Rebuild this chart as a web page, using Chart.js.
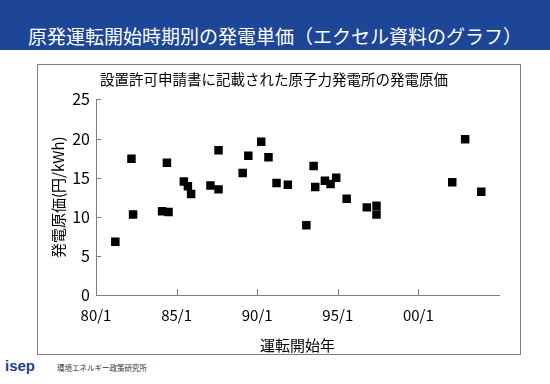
<!DOCTYPE html>
<html>
<head>
<meta charset="utf-8">
<script src="https://cdn.jsdelivr.net/npm/chart.js@4"></script>
<style>
  body { margin: 0; width: 550px; height: 384px; background: #fff; position: relative; overflow: hidden;
         font-family: "Noto Sans CJK JP", sans-serif; }
  .bar { position: absolute; left: 0; top: 0; width: 550px; height: 50px; background: #1e4696; }
  .bar h1 { position: absolute; left: 0; width: 550px; top: 23px; margin: 0; text-align: center;
            color: #fff; font-weight: normal; font-size: 19px; line-height: 26px; }
  .frame { position: absolute; left: 37px; top: 64px; width: 482px; height: 289px; border: 1px solid #808080; }
  .logo { position: absolute; left: 5px; top: 357px; color: #1e3f8f; font-family: "Liberation Sans", sans-serif;
          font-weight: bold; font-size: 15px; }
  .org { position: absolute; left: 57px; top: 362px; font-size: 7.5px; color: #333; }
</style>
</head>
<body>
<div class="bar"><h1>原発運転開始時期別の発電単価（エクセル資料のグラフ）</h1></div>
<div class="frame"><canvas id="grafico" width="482" height="289"></canvas></div>
<div class="logo">isep</div>
<div class="org">環境エネルギー政策研究所</div>
<script>
// 運転開始年 (年, 小数) と 発電原価 (円/kWh)
const anos = [1981.2, 1982.2, 1982.3, 1984.1, 1984.5, 1984.4, 1985.45, 1985.7, 1985.9, 1987.1, 1987.6,
  1987.6, 1989.1, 1989.45, 1990.25, 1990.7, 1991.2, 1991.9, 1993.5, 1993.6, 1993.05, 1994.2, 1994.55,
  1994.9, 1995.55, 1996.8, 1997.4, 1997.4, 2002.1, 2002.9, 2003.9];
const custos = [6.8, 17.4, 10.3, 10.7, 10.6, 16.9, 14.5, 13.9, 12.9, 14.0, 13.5,
  18.5, 15.6, 17.8, 19.6, 17.6, 14.3, 14.1, 16.5, 13.8, 8.9, 14.6, 14.2,
  15.0, 12.3, 11.2, 11.4, 10.3, 14.4, 19.9, 13.2];
const xTicks = [1980, 1985, 1990, 1995, 2000, 2005];
const yTicks = [0, 5, 10, 15, 20, 25];

const fonte = 'Noto Sans CJK JP';

// ticks inside the plot area
const ticksDentro = {
  id: 'ticksDentro',
  afterDraw(chart) {
    const c = chart.ctx, x = chart.scales.x, y = chart.scales.y;
    c.save();
    c.strokeStyle = '#808080';
    c.lineWidth = 1;
    c.beginPath();
    xTicks.slice(1, -1).forEach(v => {
      const px = Math.round(x.getPixelForValue(v)) + 0.5;
      c.moveTo(px, y.bottom); c.lineTo(px, y.bottom - 6);
    });
    yTicks.slice(1).forEach(v => {
      const py = Math.round(y.getPixelForValue(v)) + 0.5;
      c.moveTo(x.left, py); c.lineTo(x.left + 5, py);
    });
    c.stroke();
    c.restore();
  }
};

const ctx = document.getElementById('grafico');

new Chart(ctx, {
  type: 'scatter',
  data: {
    datasets: [{
      data: anos.map((a, i) => ({ x: a, y: custos[i] })),
      pointStyle: 'rect',
      radius: 6,
      backgroundColor: '#000',
      borderColor: '#000',
      borderWidth: 0
    }]
  },
  options: {
    responsive: false,
    animation: false,
    layout: { padding: { left: 11, right: 21, top: 0, bottom: 0 } },
    plugins: {
      legend: { display: false },
      tooltip: { enabled: false },
      title: {
        display: true,
        text: '設置許可申請書に記載された原子力発電所の発電原価',
        color: '#000',
        font: { family: fonte, size: 14.5, weight: 'normal', lineHeight: 1.2 },
        padding: { top: 6, bottom: 11 }
      }
    },
    scales: {
      x: {
        type: 'linear',
        min: 1980, max: 2005,
        afterBuildTicks: s => { s.ticks = xTicks.map(v => ({ value: v })); },
        afterFit: s => { s.height = 59; },
        grid: { display: false, drawTicks: false },
        border: { color: '#808080', width: 1 },
        ticks: {
          color: '#000',
          padding: 11,
          maxRotation: 0,
          font: { family: fonte, size: 15 },
          callback: v => v === 2005 ? '' : String(v % 100).padStart(2, '0') + '/1'
        },
        title: {
          display: true, text: '運転開始年', color: '#000',
          font: { family: fonte, size: 15 }, padding: { top: 0, bottom: 0 }
        }
      },
      y: {
        min: 0, max: 25,
        afterBuildTicks: s => { s.ticks = yTicks.map(v => ({ value: v })); },
        afterFit: s => { s.width = 47; },
        grid: { display: false, drawTicks: false },
        border: { color: '#808080', width: 1 },
        ticks: { color: '#000', padding: 6, font: { family: fonte, size: 16 } },
        title: {
          display: true, text: '発電原価(円/kWh)', color: '#000',
          font: { family: fonte, size: 15 }, padding: { top: 0, bottom: 2 }
        }
      }
    }
  },
  plugins: [ticksDentro]
});
</script>
</body>
</html>
